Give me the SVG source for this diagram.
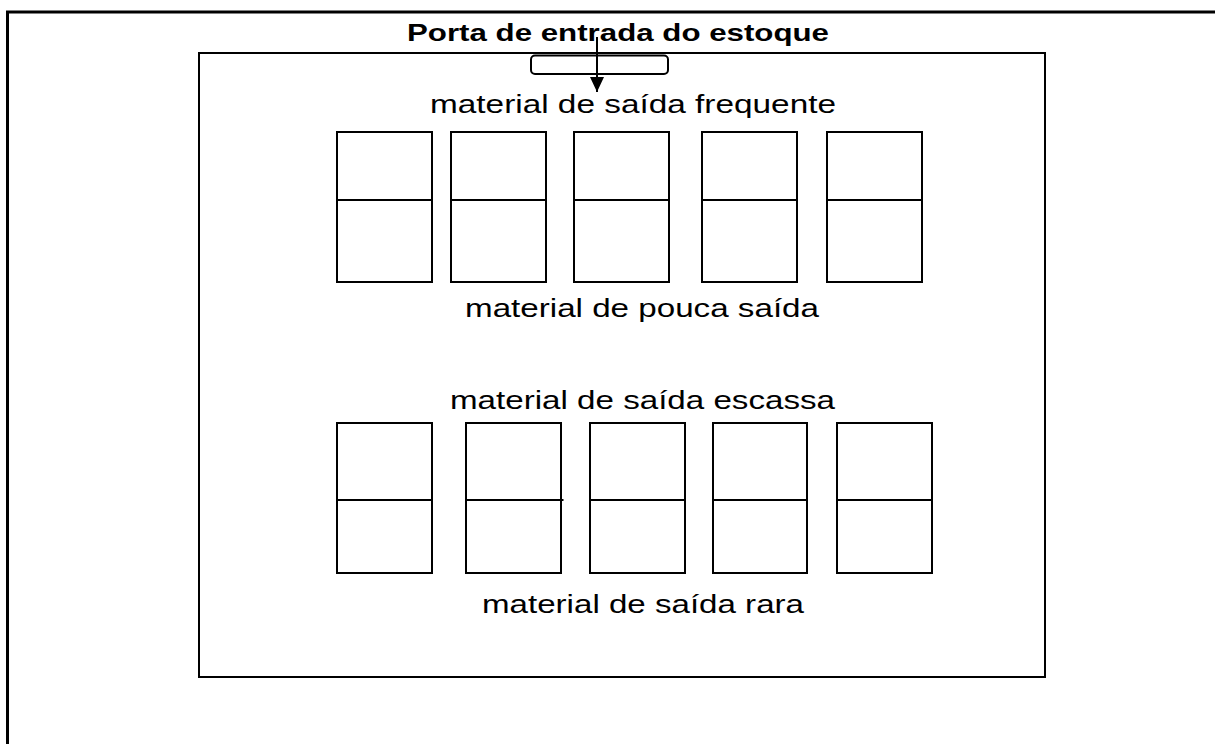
<svg xmlns="http://www.w3.org/2000/svg" width="1215" height="744" viewBox="0 0 1215 744">
<defs>
<style>
.ln{fill:none;stroke:#000;stroke-width:2}
.bx{fill:#fff;stroke:#000;stroke-width:2}
.t{font-family:"Liberation Sans",Arial,sans-serif;font-size:25.5px;fill:#000}
.tb{font-family:"Liberation Sans",Arial,sans-serif;font-size:24.5px;font-weight:bold;fill:#000}
</style>
<marker id="ah" markerWidth="16" markerHeight="14" refX="15" refY="7" orient="auto" markerUnits="userSpaceOnUse" viewBox="0 0 16 14">
<path d="M0,0 L15,7 L0,14 Z" fill="#000"/>
</marker>
</defs>
<rect width="1215" height="744" fill="#fff"/>
<g id="frame">
<path d="M7.5,744 V12 H1215" fill="none" stroke="#000" stroke-width="3"/>
</g>
<g id="stock-room">
<rect x="199" y="53" width="846" height="624" class="ln"/>
</g>
<g id="title">
<text class="tb" x="407" y="41" textLength="422" lengthAdjust="spacingAndGlyphs">Porta de entrada do estoque</text>
</g>
<g id="door">
<rect x="531" y="55.5" width="137" height="18.5" rx="4" class="ln" stroke-width="1.8"/>
</g>
<g id="labels">
<text class="t" x="430" y="113" textLength="406" lengthAdjust="spacingAndGlyphs">material de saída frequente</text>
<text class="t" x="465" y="317" textLength="354" lengthAdjust="spacingAndGlyphs">material de pouca saída</text>
<text class="t" x="450" y="409" textLength="385" lengthAdjust="spacingAndGlyphs">material de saída escassa</text>
<text class="t" x="482" y="613" textLength="322" lengthAdjust="spacingAndGlyphs">material de saída rara</text>
</g>
<g id="shelves-top">
<g id="s1"><rect x="337" y="132" width="95" height="150" class="bx"/><line x1="337" y1="200" x2="432" y2="200" class="ln"/></g>
<g id="s2"><rect x="451" y="132" width="95" height="150" class="bx"/><line x1="451" y1="200" x2="546" y2="200" class="ln"/></g>
<g id="s3"><rect x="574" y="132" width="95" height="150" class="bx"/><line x1="574" y1="200" x2="669" y2="200" class="ln"/></g>
<g id="s4"><rect x="702" y="132" width="95" height="150" class="bx"/><line x1="702" y1="200" x2="797" y2="200" class="ln"/></g>
<g id="s5"><rect x="827" y="132" width="95" height="150" class="bx"/><line x1="827" y1="200" x2="922" y2="200" class="ln"/></g>
</g>
<g id="shelves-bottom">
<g id="b1"><rect x="337" y="423" width="95" height="150" class="bx"/><line x1="337" y1="500" x2="432" y2="500" class="ln"/></g>
<g id="b2"><rect x="466" y="423" width="95" height="150" class="bx"/><line x1="466" y1="500" x2="563.5" y2="500" class="ln"/></g>
<g id="b3"><rect x="590" y="423" width="95" height="150" class="bx"/><line x1="590" y1="500" x2="685" y2="500" class="ln"/></g>
<g id="b4"><rect x="713" y="423" width="94" height="150" class="bx"/><line x1="713" y1="500" x2="807" y2="500" class="ln"/></g>
<g id="b5"><rect x="837" y="423" width="95" height="150" class="bx"/><line x1="837" y1="500" x2="932" y2="500" class="ln"/></g>
</g>
<g id="connectors">
<line x1="597" y1="37" x2="597" y2="92" class="ln" marker-end="url(#ah)"/>
</g>
</svg>
